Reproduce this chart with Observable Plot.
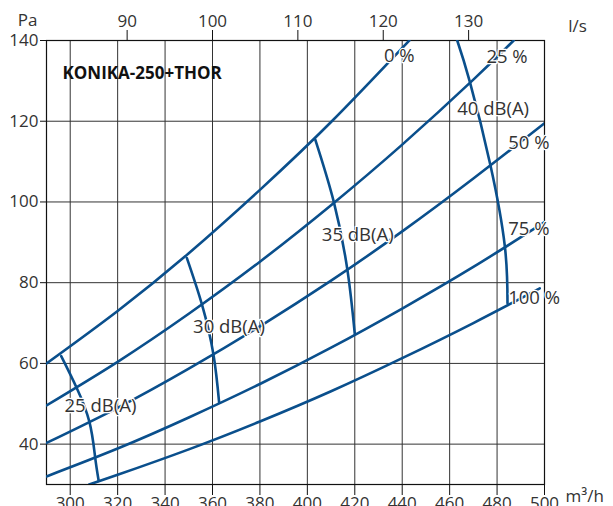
<!DOCTYPE html>
<html><head><meta charset="utf-8">
<script src="https://cdn.jsdelivr.net/npm/d3@7"></script>
<script src="https://cdn.jsdelivr.net/npm/@observablehq/plot@0.6"></script>
<style>body{margin:0;background:#fff;} svg{font-family:"Open Sans",sans-serif;}</style>
</head><body><div id="chart"></div>
<script>
// Damper position curves (m³/h, Pa)
const damper0   = [[290,60.0],[320,73.0],[350,87.3],[380,103.0],[410,119.8],[443,140]];
const damper25  = [[290,49.6],[320,60.4],[350,72.3],[380,85.2],[410,99.2],[440,114.2],[470,130.3],[487,140]];
const damper50  = [[290,40.3],[320,49.0],[350,58.7],[380,69.2],[410,80.5],[440,92.7],[470,105.8],[500,119.5]];
const damper75  = [[290,32.0],[320,38.9],[350,46.6],[380,54.9],[410,63.9],[440,73.6],[470,83.9],[500,95.0]];
const damper100 = [[308,30.0],[320,32.4],[350,38.7],[380,45.6],[410,53.1],[440,61.3],[470,70.0],[498,78.6]];
// Sound level curves
const db25 = [[296.2,61.8],[302.6,54.1],[308.1,45.5],[310.5,36.8],[312,30.9]];
const db30 = [[349.2,86.1],[355.6,74.5],[360.4,62.2],[362.8,50.3]];
const db35 = [[403.3,115.5],[411.2,99.9],[416.9,83.1],[420,67.3]];
const db40 = [[463.2,140],[468.5,129.8],[477.2,109.1],[483.3,88.9],[484.4,74.9]];

const curveNames = ["0 %","25 %","50 %","75 %","100 %","25 dB(A)","30 dB(A)","35 dB(A)","40 dB(A)"];
const curveSets = [damper0,damper25,damper50,damper75,damper100,db25,db30,db35,db40];

// Labels: text, x (m³/h), y (Pa)
const labelText = ["0 %","25 %","50 %","75 %","100 %","25 dB(A)","30 dB(A)","35 dB(A)","40 dB(A)"];
const labelX    = [432.3, 475.5, 484.7, 484.7, 484.7, 297.6, 351.8, 406.1, 463.2];
const labelY    = [136.2, 136.0, 114.7, 93.3, 76.2, 49.4, 69.0, 91.9, 123.1];

const xTicks  = [300,320,340,360,380,400,420,440,460,480,500];
const xGrid   = [300,320,340,360,380,400,420,440,460,480];
const lsTicks = [90,100,110,120,130];
const yTicks  = [40,60,80,100,120,140];
const yGrid   = [40,60,80,100,120];

const curves = curveSets.flatMap((pts,i) => pts.map(([x,y]) => ({series: curveNames[i], x, y})));
const labels = labelText.map((t,i) => ({text: t, x: labelX[i], y: labelY[i]}));

const blue = "#0a4f8c";
const txt = "#333";

const chart = Plot.plot({
  width: 613, height: 506,
  marginLeft: 46, marginRight: 69, marginTop: 40, marginBottom: 22,
  style: {fontFamily: "'Open Sans', sans-serif", fontSize: "17px", color: "#111", background: "white", overflow: "visible"},
  x: {domain: [290, 500]},
  y: {domain: [30, 140]},
  marks: [
    Plot.gridX(xGrid, {stroke: "#333", strokeOpacity: 1, strokeWidth: 1}),
    Plot.gridY(yGrid, {stroke: "#333", strokeOpacity: 1, strokeWidth: 1}),
    Plot.frame({stroke: "#111", strokeWidth: 1.2}),
    Plot.axisX(xTicks, {anchor: "bottom", tickSize: 11, tickPadding: 1, label: null, fontSize: 17, fill: txt}),
    Plot.axisX(lsTicks.map(v => v * 3.6), {anchor: "top", tickSize: 11, tickPadding: 3, label: null, fontSize: 17, fill: txt,
      tickFormat: d => String(Math.round(d / 3.6))}),
    Plot.axisY(yTicks, {anchor: "left", tickSize: 6, tickPadding: 2, label: null, fontSize: 17, fill: txt}),
    Plot.line(curves, {x: "x", y: "y", z: "series", stroke: blue, strokeWidth: 2.6, curve: "natural", clip: true}),
    Plot.text(labels, {x: "x", y: "y", text: "text", textAnchor: "start", fill: txt, stroke: "white", strokeWidth: 2.5, fontSize: 18.5}),
    Plot.text(["KONIKA-250+THOR"], {frameAnchor: "top-left", dx: 16, dy: 26, textAnchor: "start", fontWeight: "bold", fontSize: 17, fill: "#111"}),
    Plot.text(["Pa"], {frameAnchor: "top-left", dx: -19, dy: -27, textAnchor: "middle", fontSize: 17, fill: txt}),
    Plot.text(["l/s"], {frameAnchor: "top-right", dx: 33, dy: -21, textAnchor: "middle", fontSize: 17, fill: txt}),
    Plot.text(["m³/h"], {frameAnchor: "bottom-right", dx: 21, dy: 17, textAnchor: "start", fontSize: 17, fill: txt})
  ]
});
document.getElementById("chart").appendChild(chart);
</script>
</body></html>
